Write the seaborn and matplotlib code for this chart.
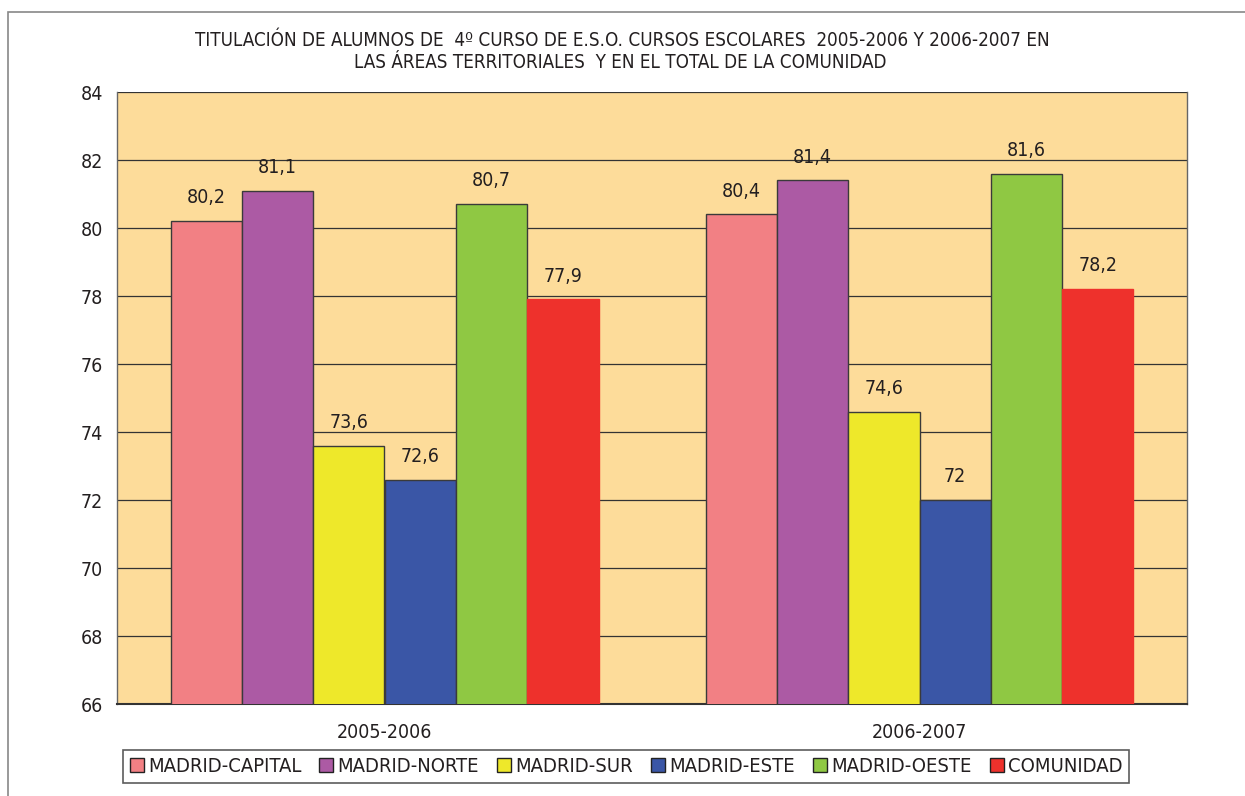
import matplotlib
matplotlib.use("Agg")
import matplotlib.pyplot as plt
from matplotlib.patches import Rectangle
import seaborn as sns
import pandas as pd

# data
cursos = ["2005-2006", "2006-2007"]
areas = ["MADRID-CAPITAL", "MADRID-NORTE", "MADRID-SUR", "MADRID-ESTE", "MADRID-OESTE", "COMUNIDAD"]
vals_2005 = [80.2, 81.1, 73.6, 72.6, 80.7, 77.9]
vals_2006 = [80.4, 81.4, 74.6, 72.0, 81.6, 78.2]
colores = ["#F28084", "#AC5AA4", "#EEE82A", "#3A56A6", "#8FC843", "#EE312C"]

rows = []
for curso, vals in zip(cursos, [vals_2005, vals_2006]):
    for a, v in zip(areas, vals):
        rows.append({"curso": curso, "area": a, "valor": v})
df = pd.DataFrame(rows)

sns.set_style("white")
plt.rcParams['font.family'] = ['DejaVu Sans']
plt.rcParams['font.stretch'] = 'condensed'
txt = "#231F20"

fig = plt.figure(figsize=(12.45, 7.96), dpi=100)
ax = fig.add_axes([117/1245, 1-704/796, (1187-117)/1245, (704-92)/796])

sns.barplot(data=df, x="curso", y="valor", hue="area", hue_order=areas,
            palette=colores, saturation=1, width=0.8, edgecolor="#3a3a3a", linewidth=1.0,
            ax=ax, zorder=3, legend=True)

ax.set_facecolor("#FDDC9A")
ax.set_ylim(66, 84)
ax.set_xlim(-0.5, 1.5)
ax.set_yticks(range(66, 85, 2))
ax.yaxis.grid(True, color="#333333", linewidth=0.9, zorder=0)
ax.set_axisbelow(True)
ax.set_xlabel("")
ax.set_ylabel("")
ax.tick_params(axis="both", labelsize=14, colors=txt, length=0, pad=10)
ax.tick_params(axis="x", pad=14)
for s in ["left", "right"]:
    ax.spines[s].set_color("#666666")
    ax.spines[s].set_linewidth(1.0)
ax.spines["bottom"].set_color("#333333")
ax.spines["bottom"].set_linewidth(1.5)
ax.spines["top"].set_visible(False)

# the COMUNIDAD bars have no outline
for b in ax.containers[-1]:
    b.set_edgecolor(b.get_facecolor())

for cont in ax.containers:
    labels = []
    for b in cont:
        v = b.get_height()
        s = f"{v:.1f}".replace(".", ",")
        if s.endswith(",0"):
            s = s[:-2]
        labels.append(s)
    ax.bar_label(cont, labels=labels, padding=10, fontsize=14, color=txt)

leg = ax.legend(loc="lower center", bbox_to_anchor=(626/1245, 0.016),
                bbox_transform=fig.transFigure, ncol=6, fontsize=14.5,
                frameon=True, fancybox=False, handlelength=0.7, handleheight=0.7,
                handletextpad=0.2, columnspacing=0.9, borderpad=0.35, borderaxespad=0)
leg.get_frame().set_edgecolor("#333333")
leg.get_frame().set_linewidth(1.2)
for t in leg.get_texts():
    t.set_color(txt)
for h in leg.legend_handles:
    h.set_edgecolor("#222222")

fig.text(622/1245, 1-40/796, "TITULACIÓN DE ALUMNOS DE  4º CURSO DE E.S.O. CURSOS ESCOLARES  2005-2006 Y 2006-2007 EN",
         ha="center", va="center", fontsize=13.5, color=txt)
fig.text(620/1245, 1-62/796, "LAS ÁREAS TERRITORIALES  Y EN EL TOTAL DE LA COMUNIDAD",
         ha="center", va="center", fontsize=13.5, color=txt)

fig.patches.append(Rectangle((8/1245, -0.1), 1.2, 1.1 - 12/796, transform=fig.transFigure,
                             fill=False, edgecolor="#888888", linewidth=1.2))

fig.savefig("out.png", dpi=100)
